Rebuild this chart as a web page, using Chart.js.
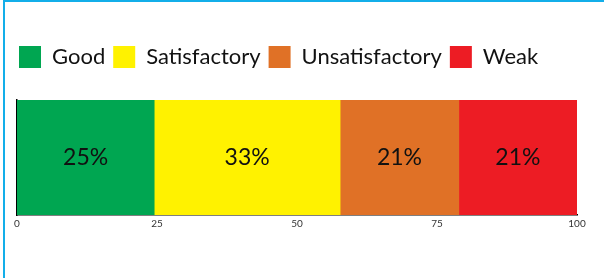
<!DOCTYPE html>
<html>
<head>
<meta charset="utf-8">
<script src="https://cdn.jsdelivr.net/npm/chart.js@4/dist/chart.umd.min.js"></script>
<style>
  html, body { margin: 0; padding: 0; background: #fff; }
  .frame {
    position: absolute; left: 3px; top: 0; width: 620px; height: 300px;
    border-left: 2px solid #13aee9; border-top: 2px solid #13aee9;
  }
  .wrap { position: absolute; left: 0; top: 0; width: 604px; height: 278px; }
</style>
</head>
<body>
<div class="frame"></div>
<div class="wrap"><canvas id="grafico" width="604" height="278"></canvas></div>
<script>
// dados
const categorias = ["Good", "Satisfactory", "Unsatisfactory", "Weak"];
const valores = [24.5, 33.2, 21.2, 21.1];
const cores = ["#00a651", "#fff200", "#e07126", "#ed1c24"];
const ticksX = [0, 25, 50, 75, 100];

// escreve o percentual no meio de cada barra
const rotulosBarras = {
  id: "rotulosBarras",
  afterDatasetsDraw(chart) {
    const ctx = chart.ctx;
    ctx.save();
    ctx.font = "23px Lato";
    ctx.fillStyle = "#111";
    ctx.textAlign = "center";
    ctx.textBaseline = "middle";
    chart.data.datasets.forEach((ds, i) => {
      const el = chart.getDatasetMeta(i).data[0];
      const p = el.getCenterPoint();
      ctx.fillText(Math.round(ds.data[0]) + "%", p.x, p.y);
    });
    ctx.restore();
  }
};

// espaço extra abaixo da legenda
const espacoLegenda = {
  id: "espacoLegenda",
  beforeInit(chart) {
    const fitOriginal = chart.legend.fit;
    chart.legend.fit = function () {
      fitOriginal.bind(chart.legend)();
      this.height += 22;
    };
  }
};

const ctx = document.getElementById("grafico").getContext("2d");
new Chart(ctx, {
  type: "bar",
  data: {
    labels: [""],
    datasets: categorias.map((c, i) => ({
      label: c,
      data: [valores[i]],
      backgroundColor: cores[i],
      borderWidth: 0
    }))
  },
  options: {
    responsive: false,
    animation: false,
    indexAxis: "y",
    layout: { padding: { left: 11, right: 27, top: 38, bottom: 45 } },
    datasets: { bar: { barPercentage: 1, categoryPercentage: 1 } },
    plugins: {
      legend: {
        align: "start",
        labels: {
          boxWidth: 22,
          boxHeight: 22,
          padding: 8,
          color: "#111",
          font: { family: "Lato", size: 22 }
        }
      },
      tooltip: { enabled: false }
    },
    scales: {
      x: {
        stacked: true,
        min: 0,
        max: 100,
        afterBuildTicks: axis => { axis.ticks = ticksX.map(v => ({ value: v })); },
        grid: { display: false, drawTicks: false },
        border: { display: true, color: "#000", width: 1.5 },
        ticks: { color: "#333", padding: 3, font: { family: "Lato", size: 10 } }
      },
      y: {
        stacked: true,
        afterFit: axis => { axis.width = 6; },
        grid: { display: false, drawTicks: false },
        border: { display: true, color: "#000", width: 1.5 },
        ticks: { display: false }
      }
    }
  },
  plugins: [rotulosBarras, espacoLegenda]
});
</script>
</body>
</html>
